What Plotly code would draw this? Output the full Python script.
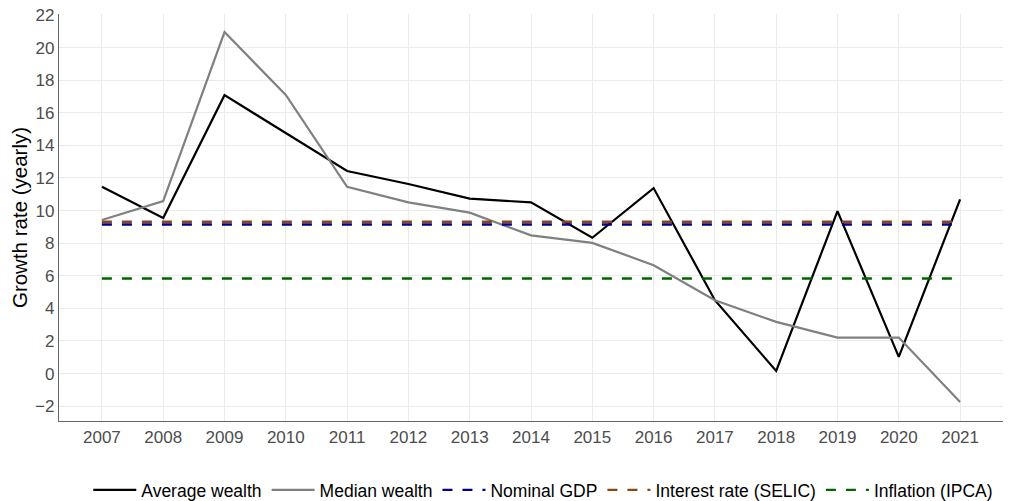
import plotly.graph_objects as go

years = list(range(2007, 2022))
average_wealth = [11.46, 9.54, 17.08, 14.78, 12.43, 11.63, 10.73, 10.50, 8.33, 11.38, 4.50, 0.16, 9.97, 1.02, 10.69]
median_wealth = [9.42, 10.58, 20.95, 17.09, 11.46, 10.50, 9.87, 8.48, 8.02, 6.65, 4.50, 3.17, 2.21, 2.21, -1.74]
nominal_gdp = 9.15
interest_selic = 9.31
inflation_ipca = 5.83

y_ticks = list(range(-2, 23, 2))

fig = go.Figure()
fig.add_trace(go.Scatter(x=years, y=average_wealth, mode="lines", name="Average wealth",
                         line=dict(color="#000000", width=2.2)))
fig.add_trace(go.Scatter(x=years, y=median_wealth, mode="lines", name="Median wealth",
                         line=dict(color="#808080", width=2.2)))
fig.add_trace(go.Scatter(x=years, y=[nominal_gdp] * len(years), mode="lines", name="Nominal GDP",
                         line=dict(color="#00008B", width=2.4, dash="10px,10px")))
fig.add_trace(go.Scatter(x=years, y=[interest_selic] * len(years), mode="lines", name="Interest rate (SELIC)",
                         line=dict(color="#8B4513", width=2.4, dash="10px,10px")))
fig.add_trace(go.Scatter(x=years, y=[inflation_ipca] * len(years), mode="lines", name="Inflation (IPCA)",
                         line=dict(color="#006400", width=2.4, dash="10px,10px")))

fig.update_layout(
    width=1012, height=493,
    margin=dict(l=51, r=17, t=6, b=80),
    plot_bgcolor="white", paper_bgcolor="white",
    font=dict(family="Liberation Sans, Arial, sans-serif", color="#4D4D4D", size=17),
    showlegend=True,
    legend=dict(orientation="h", xref="paper", x=0.513, xanchor="center",
                yref="container", y=0.0223, yanchor="middle",
                font=dict(family="Liberation Sans, Arial, sans-serif", size=17.5, color="#000000"),
                itemwidth=43, tracegroupgap=0),
    xaxis=dict(range=[2006.3, 2021.7], tickmode="array", tickvals=years, ticktext=[str(y) for y in years],
               showgrid=True, gridcolor="#EBEBEB", gridwidth=1, zeroline=False,
               showline=True, linecolor="#666666", linewidth=1.2, ticks="", ticklen=0,
               tickfont=dict(size=17, color="#4D4D4D"), automargin=False),
    yaxis=dict(range=[-2.91, 22.06], tickmode="array", tickvals=y_ticks,
               showgrid=True, gridcolor="#EBEBEB", gridwidth=1, zeroline=False,
               showline=True, linecolor="#666666", linewidth=1.2, ticks="",
               tickfont=dict(size=17, color="#4D4D4D"), automargin=False,
               ticklabeloverflow="allow",
               title=dict(text="Growth rate (yearly)", font=dict(size=20.5, color="#000000"), standoff=3)),
)

fig.write_html("out.html", config={"displayModeBar": False})
